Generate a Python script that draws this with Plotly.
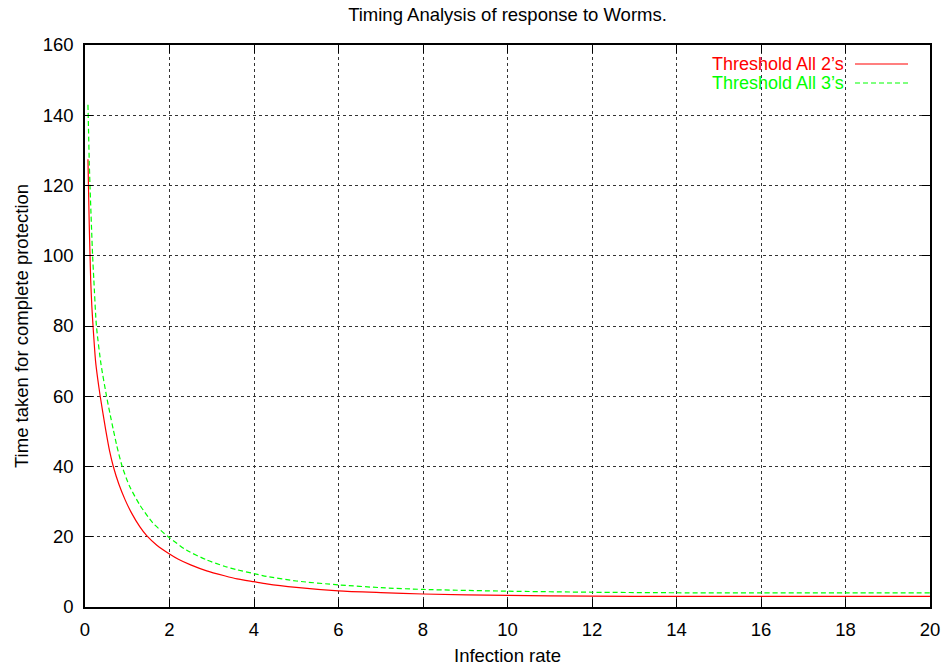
import plotly.graph_objects as go

# Data
red_x = [0.07, 0.085, 0.10, 0.118, 0.135, 0.16, 0.19, 0.25, 0.30, 0.36, 0.49, 0.58, 0.67,
         0.80, 0.95, 1.10, 1.30, 1.46, 1.70, 2.0, 2.21, 2.5, 2.88, 3.3, 3.6, 4.0, 4.3,
         5.0, 6.0, 7.0, 8.0, 10.0, 12.0, 14.0, 16.0, 18.0, 20.0]
red_y = [127.5, 118, 109, 100.5, 93, 86, 80, 70, 65, 60, 50.4, 44.5, 40,
         35, 30.5, 26.8, 22.8, 20.3, 17.6, 15.1, 13.6, 12.0, 10.3, 8.9, 8.0, 7.2, 6.6,
         5.6, 4.6, 4.1, 3.7, 3.3, 3.1, 3.0, 3.0, 3.0, 3.0]

green_x = [0.07, 0.085, 0.10, 0.118, 0.18, 0.21, 0.27, 0.38, 0.51, 0.60, 0.67, 0.75, 0.88,
           1.05, 1.30, 1.60, 1.97, 2.4, 2.88, 3.3, 3.6, 4.0, 4.3, 5.0, 6.0, 7.0, 8.0,
           10.0, 12.0, 14.0, 16.0, 18.0, 20.0]
green_y = [143, 135, 127, 120, 100, 93, 80, 69, 60, 54.5, 50.5, 46, 40,
           34.5, 29, 24, 20, 16.2, 13.4, 11.6, 10.6, 9.5, 8.7, 7.4, 6.3, 5.5, 5.0,
           4.5, 4.2, 4.05, 4.0, 4.0, 4.0]

series_names = ["Threshold All 2\u2019s", "Threshold All 3\u2019s"]
series_colors = ["#ff0000", "#00ff00"]
x_ticks = [0, 2, 4, 6, 8, 10, 12, 14, 16, 18, 20]
y_ticks = [0, 20, 40, 60, 80, 100, 120, 140, 160]

FONT = "Liberation Sans, Arial, Helvetica, sans-serif"
FS = 18.5

fig = go.Figure()
fig.add_trace(go.Scatter(x=red_x, y=red_y, mode="lines", name=series_names[0],
                         line=dict(color=series_colors[0], width=1.2,
                                   shape="spline", smoothing=0.6)))
fig.add_trace(go.Scatter(x=green_x, y=green_y, mode="lines", name=series_names[1],
                         line=dict(color=series_colors[1], width=1.2, dash="5px,3px",
                                   shape="spline", smoothing=0.6)))

axis_common = dict(
    showline=True, linecolor="black", linewidth=1.5, mirror="ticks",
    ticks="inside", ticklen=8, tickcolor="black", tickwidth=1,
    showgrid=True, gridcolor="#333333", griddash="dot", gridwidth=1,
    zeroline=False, automargin=False,
    tickfont=dict(family=FONT, size=FS, color="black"),
)

fig.update_layout(
    width=945, height=667,
    margin=dict(l=85, r=15, t=45, b=60),
    paper_bgcolor="white", plot_bgcolor="white",
    showlegend=False,
    title=dict(text="Timing Analysis of response to Worms.", x=0.5, xref="paper",
               y=1 - 15 / 667, yref="container", yanchor="middle",
               font=dict(family=FONT, size=FS, color="black")),
    xaxis=dict(range=[0, 20], tickvals=x_ticks, ticklabelstandoff=5, **axis_common),
    yaxis=dict(range=[0, 160], tickvals=y_ticks, ticklabelstandoff=6, **axis_common),
)

# Axis titles
fig.add_annotation(text="Infection rate", xref="paper", yref="paper", x=0.5, y=0,
                   yshift=-48, showarrow=False, yanchor="middle",
                   font=dict(family=FONT, size=FS, color="black"))
fig.add_annotation(text="Time taken for complete protection", xref="paper", yref="paper",
                   x=0, y=0.5, xshift=-64, textangle=-90, showarrow=False,
                   xanchor="center", font=dict(family=FONT, size=FS, color="black"))

# Gnuplot-style key: right-aligned coloured text with sample line to its right
key_rows = [(64, "solid"), (83, "5px,3px")]
for (ypx, dash), name, col in zip(key_rows, series_names, series_colors):
    yp = (607 - ypx) / 562
    fig.add_annotation(text=name, xref="paper", yref="paper", x=(845 - 85) / 845, y=yp,
                       xanchor="right", yanchor="middle", showarrow=False, borderpad=0,
                       font=dict(family=FONT, size=18, color=col))
    fig.add_shape(type="line", xref="paper", yref="paper",
                  x0=(855 - 85) / 845, x1=(908 - 85) / 845, y0=yp, y1=yp,
                  line=dict(color=col, width=1.2, dash=dash))

fig.write_html("out.html")
